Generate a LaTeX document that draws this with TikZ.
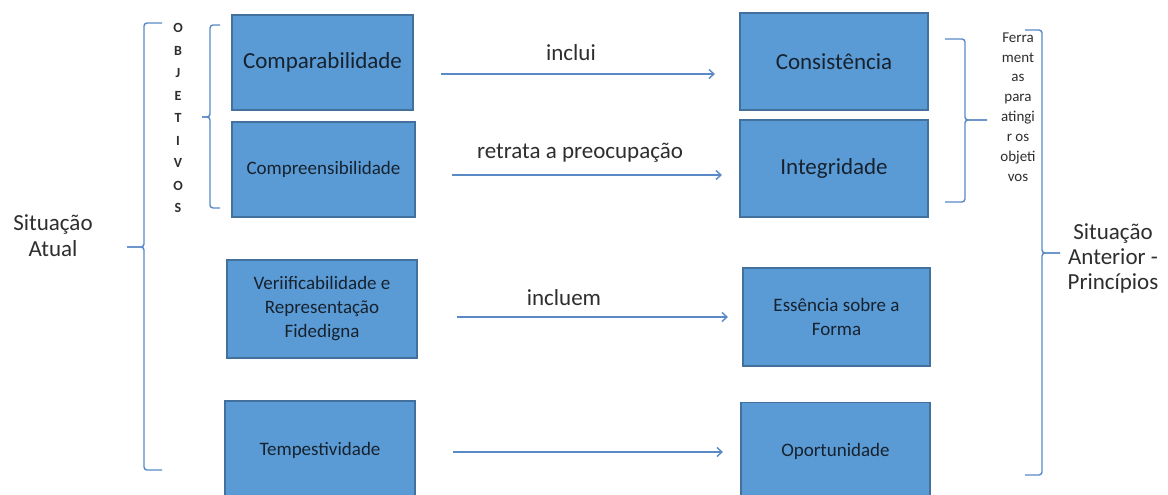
\documentclass[tikz,border=0pt]{standalone}
\usepackage{fontspec}
\setmainfont{Carlito}
\usetikzlibrary{arrows.meta}
\definecolor{azulcaixa}{HTML}{5B9BD5}
\definecolor{bordacaixa}{HTML}{41719C}
\definecolor{azultraco}{HTML}{5A8AC6}
\definecolor{letracaixa}{HTML}{16222E}
\definecolor{letrafora}{HTML}{2E2E2E}

\begin{document}
\begin{tikzpicture}[x=1pt,y=-1pt,
		caixa/.style={draw=bordacaixa, line width=1.2pt, fill=azulcaixa, text=letracaixa, align=center, inner sep=0pt},
		grande/.style={font=\fontsize{23}{27}\selectfont},
		pequena/.style={font=\fontsize{19}{24}\selectfont},
		rotulo/.style={text=letrafora, align=center, inner sep=0pt},
		seta/.style={draw=azultraco, line width=1.4pt, -{Straight Barb[length=5pt,width=9pt]}},
		chave/.style={draw=azultraco, line width=1.4pt, rounded corners=3pt}]
			%%%%% START %%%%%
			
			\fill[white] (0,0) rectangle (1168,495);
			\useasboundingbox (0,0) rectangle (1168,495);
			
			% objetivos
			\node[caixa,grande,minimum width=181pt,minimum height=95pt] (comp) at (322.5,62.5) {Comparabilidade};
			\node[caixa,pequena,minimum width=183pt,minimum height=95pt] (compr) at (323.5,169.5) {Compreensibilidade};
			\node[caixa,pequena,minimum width=190pt,minimum height=98pt] (veri) at (322,309) {Veriificabilidade e\\Representação\\Fidedigna};
			\node[caixa,pequena,minimum width=190pt,minimum height=98pt] (temp) at (320,450) {Tempestividade};
			
			% principios
			\node[caixa,grande,minimum width=188pt,minimum height=97pt] (cons) at (834,61.5) {Consistência};
			\node[caixa,grande,minimum width=188pt,minimum height=97pt] (integ) at (834,168.5) {Integridade};
			\node[caixa,pequena,minimum width=187pt,minimum height=98pt] (ess) at (836.5,317) {Essência sobre a\\Forma};
			\node[caixa,pequena,minimum width=189pt,minimum height=98pt] (oport) at (835.5,451.5) {Oportunidade};
			
			% setas
			\coordinate (ini1) at (441,74);
			\coordinate (fim1) at (715,74);
			\coordinate (ini2) at (452,175);
			\coordinate (fim2) at (722,175);
			\coordinate (ini3) at (457,317);
			\coordinate (fim3) at (728,317);
			\coordinate (ini4) at (453,452);
			\coordinate (fim4) at (723,452);
			\draw[seta] (ini1) -- (fim1);
			\draw[seta] (ini2) -- (fim2);
			\draw[seta] (ini3) -- (fim3);
			\draw[seta] (ini4) -- (fim4);
			
			\node[rotulo,grande] (inclui) at (571,53) {inclui};
			\node[rotulo,grande] (retrata) at (580,153) {retrata a preocupação};
			\node[rotulo,grande] (incluem) at (564,298) {incluem};
			
			% chaves
			\draw[chave] (162,23) -- (144,23) -- (144,247) -- (127,247);
			\draw[chave] (127,247) -- (144,247) -- (144,470) -- (162,470);
			\draw[chave] (220,25) -- (210,25) -- (210,117) -- (202,117);
			\draw[chave] (202,117) -- (210,117) -- (210,208) -- (220,208);
			\draw[chave] (945,39) -- (965,39) -- (965,120) -- (987,120);
			\draw[chave] (987,120) -- (965,120) -- (965,202) -- (945,202);
			\draw[chave] (1025,30) -- (1042,30) -- (1042,253) -- (1060,253);
			\draw[chave] (1060,253) -- (1042,253) -- (1042,475) -- (1025,475);
			
			\foreach \letra [count=\i from 0] in {O,B,J,E,T,I,V,O,S}
				\node[rotulo,font=\fontsize{14}{16}\bfseries] (obj\i) at (178,{28+22.5*\i}) {\letra};
			
			\node[rotulo,font=\fontsize{15}{19.9}\selectfont] (ferram) at (1018,107) {Ferra\\ment\\as\\para\\atingi\\r os\\objeti\\vos};
			
			\node[rotulo,grande,font=\fontsize{23}{26}\selectfont] (atual) at (53,236) {Situação\\Atual};
			\node[rotulo,grande,font=\fontsize{23}{25}\selectfont] (anterior) at (1113,258) {Situação\\Anterior -\\Princípios};
			
			%%%%% END %%%%%
		\end{tikzpicture}
\end{document}
